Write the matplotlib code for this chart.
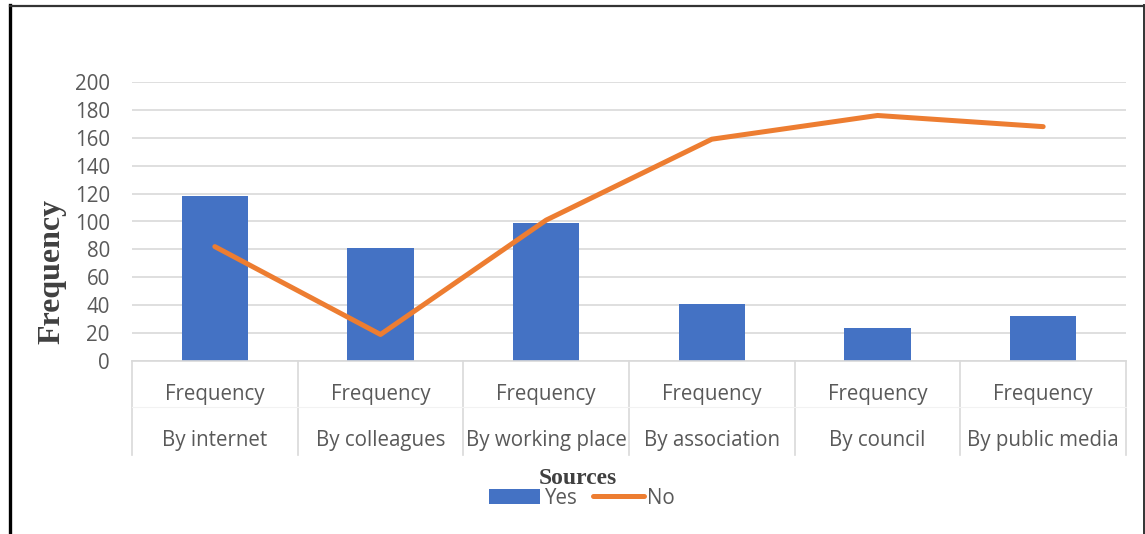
import matplotlib as mpl
mpl.use('Agg')
import matplotlib.pyplot as plt
from matplotlib.lines import Line2D
from matplotlib.patches import Patch

sources = ['By internet', 'By colleagues', 'By working place',
           'By association', 'By council', 'By public media']
yes_values = [118, 81, 99, 41, 24, 32]
no_values = [82, 19, 101, 159, 176, 168]
y_ticks = [0, 20, 40, 60, 80, 100, 120, 140, 160, 180, 200]

blue = '#4472C4'
orange = '#ED7D31'
grid_col = '#D9D9D9'
text_col = '#595959'
sans = 'Open Sans'
serif = 'Liberation Serif'
fs = 14.8

fig = plt.figure(figsize=(11.45, 5.34), dpi=100)
fig.patch.set_facecolor('white')
ax = fig.add_axes([132 / 1145, 1 - 361 / 534, 994 / 1145, 279 / 534])

x = list(range(len(sources)))
ax.bar(x, yes_values, width=0.4, color=blue, zorder=2)
ax.plot(x, no_values, color=orange, linewidth=3.6, solid_capstyle='round',
        zorder=3)

ax.set_xlim(-0.5, len(sources) - 0.5)
ax.set_ylim(0, 200)
ax.set_yticks(y_ticks)
ax.set_yticklabels([str(t) for t in y_ticks], fontsize=fs, color=text_col,
                   family=sans)
ax.tick_params(axis='y', length=0, pad=16)
ax.set_xticks([])
ax.yaxis.grid(True, color=grid_col, linewidth=1.2, zorder=0)
ax.set_axisbelow(True)
for side in ['top', 'right', 'left']:
    ax.spines[side].set_visible(False)
ax.spines['bottom'].set_color(grid_col)
ax.spines['bottom'].set_linewidth(1.2)

# multi-level category axis
trans = ax.get_xaxis_transform()
for i, s in enumerate(sources):
    ax.text(i, -0.12, 'Frequency', transform=trans, ha='center', va='center',
            fontsize=fs, color=text_col, family=sans, clip_on=False)
    ax.text(i, -0.284, s, transform=trans, ha='center', va='center',
            fontsize=fs, color=text_col, family=sans, clip_on=False)
for b in range(len(sources) + 1):
    ax.add_line(Line2D([b - 0.5, b - 0.5], [0, -0.337], transform=trans,
                       color=grid_col, linewidth=1.2, clip_on=False))
ax.add_line(Line2D([-0.5, len(sources) - 0.5], [-0.165, -0.165],
                   transform=trans, color='#F2F2F2', linewidth=0.8,
                   clip_on=False))

fig.text(52 / 1145, 1 - 271 / 534, 'Frequency', rotation=90, ha='center',
         va='center', fontsize=23, fontweight='bold', family=serif,
         color='#404040')
fig.text(578 / 1145, 1 - 479 / 534, 'Sources', ha='center', va='center',
         fontsize=17, fontweight='bold', family=serif, color='#404040')

handles = [Patch(facecolor=blue), Line2D([0], [0], color=orange, linewidth=3.6,
                                           solid_capstyle='round')]
leg = fig.legend(handles, ['Yes', 'No'], loc='center',
                 bbox_to_anchor=(582 / 1145, 1 - 498 / 534), ncol=2,
                 frameon=False, handlelength=2.5, handleheight=0.7,
                 columnspacing=0.8, handletextpad=0.15,
                 prop={'family': sans, 'size': fs})
for t in leg.get_texts():
    t.set_color(text_col)

# outer frame
fig.add_artist(Line2D([10 / 1145, 10 / 1145], [0, 1 - 5 / 534],
                      transform=fig.transFigure, color='black', linewidth=2.4))
fig.add_artist(Line2D([10 / 1145, 1144 / 1145], [1 - 5.5 / 534, 1 - 5.5 / 534],
                      transform=fig.transFigure, color='#333333', linewidth=1.6))
fig.add_artist(Line2D([1144 / 1145, 1144 / 1145], [0, 1 - 5 / 534],
                      transform=fig.transFigure, color='#333333', linewidth=1.4))

plt.savefig('out.png', dpi=100)
